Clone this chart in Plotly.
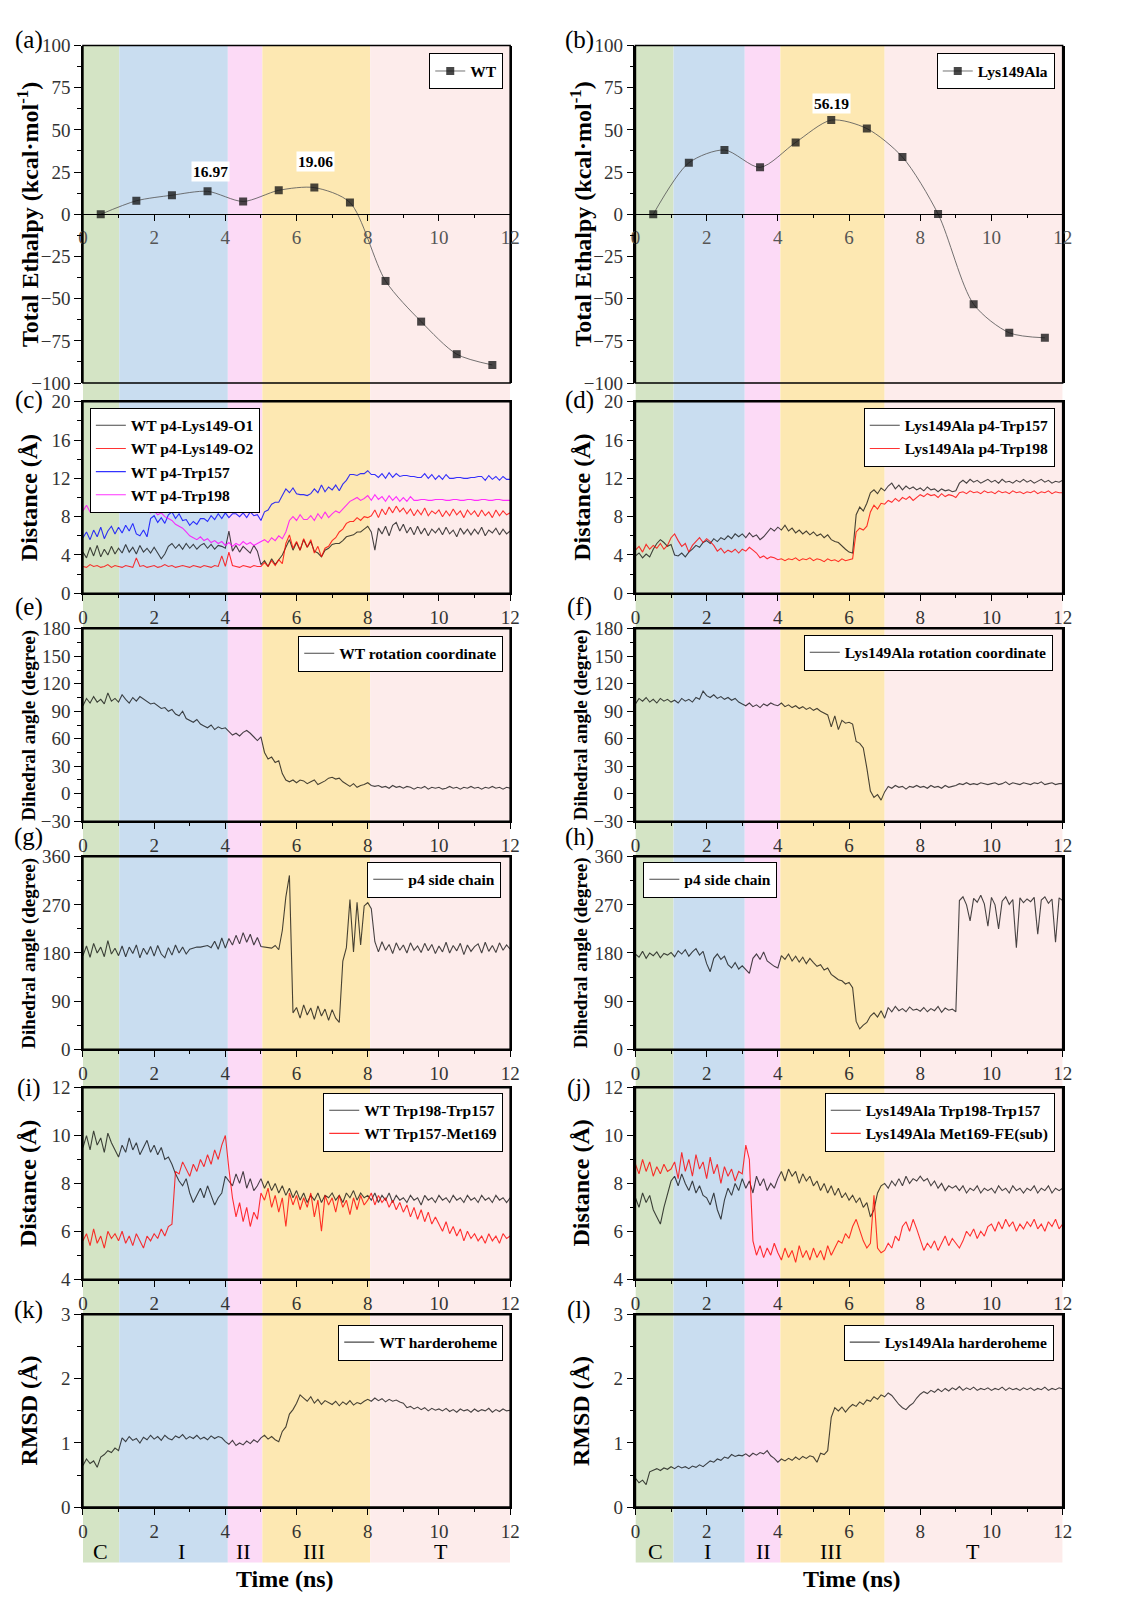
import numpy as np
import plotly.graph_objects as go

W, H = 1121, 1602
FONT = "Liberation Serif"


def px(x):
    return x / W


def py(y):
    return 1 - y / H


# ---------------- data ----------------
# (a)/(b) total enthalpy
enth_t = [0.5, 1.5, 2.5, 3.5, 4.5, 5.5, 6.5, 7.5, 8.5, 9.5, 10.5, 11.5]
enth_wt = [0.0, 8.0, 11.3, 13.6, 7.6, 14.2, 15.8, 7.0, -39.5, -63.6, -82.9, -89.3]
enth_mut = [0.0, 30.5, 38.1, 27.8, 42.6, 55.8, 50.8, 33.9, 0.2, -53.3, -70.2, -73.2]
labels_wt = [(3.58, 25.5, "16.97"), (6.53, 31.0, "19.06")]
labels_mut = [(5.5, 65.8, "56.19")]

# (c) WT distances, sampled every 0.1 ns
c_o1 = [4.3, 3.7, 4.8, 3.9, 5.0, 3.8, 4.6, 4.0, 4.9, 4.1,
        4.7, 4.2, 5.1, 4.3, 4.8, 4.1, 5.0, 4.3, 4.7, 4.2,
        4.8, 4.2, 3.6, 4.1, 4.9, 5.2, 4.7, 5.1, 4.6, 5.2,
        4.7, 5.1, 4.6, 5.0, 5.2, 4.7, 5.1, 4.6, 5.0, 4.9,
        4.7, 6.5, 4.4, 5.0, 4.3, 4.9, 4.5, 4.2, 5.0, 4.4,
        3.0, 3.4, 2.8, 3.6, 3.0, 3.5, 4.0, 4.8, 5.6, 4.5,
        5.3, 4.5, 5.6, 4.8, 5.4, 4.4, 4.2, 3.8, 4.5, 4.7,
        5.1, 5.2, 5.2, 5.5, 5.9, 6.0, 6.1, 6.4, 6.4, 6.7,
        7.0, 6.4, 4.5, 6.8, 6.2, 7.0, 6.0, 7.1, 7.4, 6.5,
        7.2, 6.3, 6.9, 6.1, 7.0, 6.2, 6.8, 6.0, 6.7, 6.3,
        6.8, 6.1, 6.9, 6.2, 6.6, 5.9, 6.8, 6.2, 6.7, 6.1,
        6.7, 6.2, 6.9, 6.0, 6.6, 6.3, 6.8, 6.1, 6.7, 6.2,
        6.5]
c_o2 = [2.8, 2.7, 3.0, 2.8, 2.9, 2.7, 2.8, 3.0, 2.7, 2.9,
        2.8, 2.7, 2.9, 2.8, 2.7, 3.7, 2.8, 2.9, 2.7, 2.8,
        2.9, 2.7, 2.8, 3.0, 2.8, 2.9, 2.7, 2.8, 2.9, 2.8,
        2.7, 2.9, 2.8, 2.7, 2.9, 2.8, 2.7, 2.9, 2.8, 3.9,
        2.8, 4.3, 2.9, 2.8, 2.7, 2.9, 2.8, 2.7, 2.9, 2.8,
        2.8, 3.2, 2.8, 3.4, 2.9, 3.5, 3.1, 5.2, 6.1, 4.7,
        5.4, 4.5, 5.7, 4.8, 5.6, 4.2, 4.9, 3.8, 4.7, 4.9,
        5.5, 5.8, 6.4, 6.7, 7.3, 7.5, 7.5, 7.9, 7.6, 8.0,
        7.9, 8.1, 8.7, 7.9, 8.8, 8.2, 9.0, 8.4, 9.1, 8.5,
        8.9, 8.3, 8.8, 8.1, 8.7, 8.2, 8.9, 8.1, 8.6, 8.3,
        8.7, 8.0, 8.6, 8.1, 8.8, 8.2, 8.6, 7.9, 8.7, 8.2,
        8.6, 8.0, 8.7, 8.1, 8.5, 7.9, 8.7, 8.1, 8.6, 8.2,
        8.4]
c_trp157 = [5.8, 6.4, 5.6, 6.6, 5.9, 6.9, 5.7, 6.5, 7.0, 6.2,
            6.9, 6.3, 7.1, 6.5, 7.3, 6.2, 6.0, 6.6, 5.9, 7.8,
            8.1, 7.4, 7.9, 7.3, 8.2, 8.5, 7.8, 8.3, 7.6, 7.7,
            7.1, 7.5, 7.2, 7.8, 7.8, 7.5, 8.1, 7.7, 8.3, 7.8,
            8.4, 7.9, 8.3, 8.3, 8.0, 8.4, 7.9, 8.5, 8.1, 8.2,
            7.6, 8.5, 8.7, 9.3, 9.5, 9.5, 10.2, 10.9, 10.5, 11.0,
            10.4, 10.3, 10.3, 10.2, 10.4, 10.9, 10.5, 11.3, 10.6, 11.1,
            10.8, 11.3, 10.7, 11.4, 11.8, 12.4, 12.4, 12.3, 12.5, 12.5,
            12.8, 12.4, 12.4, 12.1, 12.5, 12.0, 12.6, 12.1, 12.5, 12.2,
            12.3, 12.3, 12.2, 12.2, 12.1, 12.1, 12.5, 12.0, 12.4, 11.9,
            12.3, 11.9, 12.4, 12.0, 12.0, 12.1, 12.1, 12.0, 12.0, 12.1,
            12.1, 12.2, 12.2, 11.8, 12.3, 11.9, 12.2, 11.8, 12.2, 11.9,
            11.9]
c_trp198 = [8.6, 9.2, 8.5, 9.1, 8.7, 9.3, 8.6, 9.0, 9.2, 8.7,
            8.5, 9.0, 8.6, 9.1, 8.7, 9.3, 8.6, 9.0, 8.5, 8.4,
            8.6, 8.2, 8.4, 8.0, 7.8, 7.6, 7.2, 7.0, 6.8, 6.4,
            6.0, 5.8, 5.6, 5.9, 5.5, 5.7, 5.3, 5.5, 5.2, 5.4,
            5.0, 5.3, 4.9, 5.2, 5.0, 5.4, 5.1, 5.3, 5.0, 5.2,
            5.4, 5.6, 5.3, 5.8, 5.5, 6.0, 5.7, 6.4, 7.6, 8.0,
            7.6, 8.2, 7.7, 7.7, 8.1, 7.6, 8.3, 7.8, 8.5, 7.9,
            8.3, 8.6, 8.4, 8.8, 9.2, 9.6, 9.8, 10.0, 9.7, 9.9,
            10.2, 9.7, 10.3, 9.8, 10.1, 9.6, 10.2, 9.7, 10.1, 9.6,
            10.0, 9.6, 10.1, 9.7, 9.7, 9.8, 9.8, 9.7, 9.7, 9.8,
            9.8, 9.8, 9.7, 9.7, 9.8, 9.8, 9.7, 9.7, 9.8, 9.8,
            9.7, 9.7, 9.8, 9.8, 9.7, 9.7, 9.8, 9.8, 9.7, 9.7,
            9.7]

# (d) Lys149Ala distances
d_trp157 = [3.9, 4.2, 3.7, 4.1, 3.8, 4.6, 5.2, 5.6, 5.3, 4.9,
            5.1, 4.0, 3.9, 4.2, 3.8, 4.3, 4.6, 5.0, 4.8, 5.3,
            5.5, 5.2, 5.7, 5.4, 5.8, 5.6, 6.0, 5.7, 6.2, 5.9,
            6.2, 5.8, 6.3, 5.9, 6.1, 5.6, 5.9, 6.4, 6.8, 6.5,
            6.9, 6.6, 7.1, 6.5, 6.8, 6.3, 6.6, 6.2, 6.5, 6.1,
            6.4, 6.0, 6.2, 5.8, 6.1, 5.6, 5.4, 5.3, 4.9, 4.6,
            4.3, 4.2, 8.2, 9.0, 8.6, 9.4, 10.5, 10.8, 10.4, 11.0,
            10.7, 11.2, 11.5, 10.9, 11.3, 10.8, 11.2, 10.9, 11.1, 10.8,
            11.0, 10.7, 11.1, 10.8, 10.9, 10.6, 10.9, 10.7, 10.8, 10.6,
            10.7, 11.5, 11.8, 11.5, 11.9, 11.6, 11.8, 11.5, 11.7, 11.9,
            11.6, 11.8, 11.5, 11.9, 11.6, 11.7, 11.5, 11.8, 11.6, 11.9,
            11.6, 11.8, 11.5, 11.7, 11.9, 11.6, 11.8, 11.5, 11.7, 11.6,
            11.8]
d_trp198 = [4.5, 4.9, 4.3, 5.1, 4.6, 5.0, 4.7, 5.2, 4.6, 5.0,
            5.8, 6.2, 5.5, 4.9, 5.2, 4.3, 5.0, 5.4, 5.8, 5.3,
            5.7, 5.4, 5.0, 4.4, 4.7, 4.2, 4.5, 4.3, 4.6, 4.2,
            4.6, 4.4, 4.8, 4.5, 4.2, 3.7, 3.9, 3.6, 3.8, 3.7,
            3.5, 3.6, 3.4, 3.6, 3.5, 3.7, 3.4, 3.6, 3.5, 3.7,
            3.4, 3.6, 3.5, 3.3, 3.6, 3.4, 3.5, 3.3, 3.6, 3.4,
            3.5, 3.6, 6.4, 6.8, 6.6, 7.0, 8.5, 9.2, 8.8, 9.4,
            9.3, 9.7, 9.5, 9.9, 9.6, 10.0, 9.8, 10.1, 9.7, 10.0,
            10.3, 10.1, 10.4, 10.2, 10.3, 10.0, 10.4, 10.1, 10.3, 10.2,
            10.0, 10.5, 10.6, 10.4, 10.7, 10.5, 10.6, 10.4, 10.7, 10.5,
            10.6, 10.4, 10.7, 10.5, 10.6, 10.4, 10.7, 10.5, 10.6, 10.4,
            10.6, 10.5, 10.7, 10.4, 10.6, 10.5, 10.7, 10.4, 10.6, 10.5,
            10.5]

# (e)/(f) rotation coordinate
e_rot = [96, 104, 99, 106, 100, 103, 98, 110, 101, 104,
         100, 108, 103, 99, 105, 101, 106, 103, 100, 98,
         99, 96, 93, 94, 90, 92, 87, 85, 90, 82,
         80, 78, 81, 76, 74, 72, 75, 70, 73, 71,
         72, 68, 64, 66, 63, 67, 69, 66, 62, 58,
         62, 45, 38, 40, 34, 36, 22, 15, 13, 15,
         12, 15, 14, 11, 13, 15, 10, 12, 14, 17,
         18, 16, 17, 13, 10, 8, 11, 7, 9, 10,
         12, 9, 8, 9, 7, 8, 6, 9, 7, 8,
         6, 8, 7, 5, 7, 6, 8, 5, 7, 6,
         7, 5, 6, 8, 6, 7, 5, 7, 6, 8,
         6, 7, 5, 7, 6, 8, 6, 7, 5, 7,
         6]
f_rot = [98, 104, 101, 105, 100, 103, 99, 104, 101, 103,
         100, 102, 99, 104, 101, 103, 100, 105, 103, 112,
         107, 105, 108, 104, 106, 103, 105, 102, 104, 100,
         98, 96, 99, 95, 97, 94, 98, 96, 99, 97,
         96, 99, 95, 97, 94, 96, 93, 95, 92, 94,
         91, 93, 90, 88, 86, 73, 85, 70, 80, 77,
         78, 76, 57, 55, 50, 28, 3, -4, -1, -7,
         2, 8, 6, 9, 7, 8, 5, 8, 7, 9,
         7, 8, 6, 9, 7, 8, 6, 9, 7, 8,
         9, 11, 10, 12, 10, 11, 10, 12, 11, 10,
         11, 12, 10, 11, 13, 10, 12, 11, 10, 12,
         11, 10, 12, 11, 13, 10, 11, 12, 10, 11,
         11]

# (g)/(h) p4 side chain dihedral
g_side = [175, 193, 172, 198, 180, 191, 173, 203, 178, 189,
          175, 193, 173, 191, 179, 195, 171, 189, 177, 192,
          174, 194, 178, 171, 190, 176, 195, 180, 191, 178,
          187, 189, 191, 191, 193, 194, 190, 202, 187, 208,
          189, 207, 195, 213, 197, 218, 200, 215, 195, 209,
          192, 191, 189, 189, 194, 186, 222, 285, 325, 68,
          78, 58, 83, 64, 77, 56, 81, 62, 75, 54,
          74, 58, 50, 165, 190, 280, 182, 275, 195, 268,
          274, 263, 201, 182, 201, 185, 196, 179, 199, 185,
          195, 180, 199, 185, 193, 181, 198, 184, 196, 179,
          193, 182, 200, 180, 194, 184, 198, 177, 195, 183,
          192, 197, 180, 200, 183, 194, 181, 199, 185, 195,
          187]
h_side = [178, 172, 183, 170, 180, 175, 182, 171, 179, 176,
          181, 173, 184, 178, 186, 174, 182, 188, 176, 183,
          160, 145, 170, 178, 168, 174, 158, 152, 162, 150,
          156, 148, 142, 170, 178, 168, 182, 165, 160, 155,
          152, 175, 168, 178, 165, 174, 163, 172, 160, 170,
          162, 155, 158, 148, 152, 140, 135, 130, 128, 122,
          125, 115, 52, 38, 45, 50, 62, 68, 60, 72,
          58, 78, 70, 80, 72, 76, 70, 79, 73, 75,
          71, 78, 70, 76, 72, 80, 69, 77, 73, 75,
          70, 278, 285, 270, 240, 282, 275, 288, 272, 230,
          284, 270, 225, 277, 285, 271, 280, 190, 283, 274,
          281, 276, 284, 215, 279, 285, 273, 281, 200, 283,
          278]

# (i)/(j) residue distances
i_198_157 = [9.5, 10.0, 9.4, 10.2, 9.6, 9.9, 9.3, 10.1, 9.7, 9.4,
             9.1, 9.6, 9.3, 9.9, 9.4, 9.7, 9.2, 9.5, 9.8, 9.3,
             9.6, 9.2, 9.5, 9.0, 9.1, 8.8, 8.4, 8.1, 7.9, 8.2,
             7.6, 7.2, 7.5, 7.8, 7.4, 7.9, 7.5, 7.1, 7.4, 7.6,
             8.3, 8.1, 7.9, 8.4, 8.0, 8.5, 7.8, 8.2, 7.7, 7.9,
             8.2, 7.8, 8.1, 7.7, 8.0, 7.6, 7.9, 7.5, 7.8, 7.4,
             7.7, 7.3, 7.6, 7.2, 7.5, 7.3, 7.6, 7.2, 7.5, 7.4,
             7.6, 7.3, 7.5, 7.2, 7.6, 7.4, 7.7, 7.3, 7.6, 7.4,
             7.5, 7.3, 7.6, 7.2, 7.5, 7.3, 7.6, 7.2, 7.5, 7.3,
             7.4, 7.2, 7.5, 7.3, 7.4, 7.1, 7.5, 7.3, 7.4, 7.2,
             7.5, 7.3, 7.4, 7.2, 7.5, 7.3, 7.4, 7.2, 7.5, 7.3,
             7.4, 7.2, 7.5, 7.3, 7.4, 7.2, 7.5, 7.3, 7.4, 7.2,
             7.4]
i_157_169 = [5.6, 5.9, 5.4, 6.1, 5.5, 5.8, 5.3, 6.0, 5.7, 5.9,
             5.6, 6.0, 5.5, 5.8, 5.4, 5.9, 5.6, 5.3, 5.8, 5.6,
             5.9, 5.7, 6.1, 5.8, 6.2, 6.3, 8.5, 8.4, 8.9, 8.6,
             8.3, 8.8, 8.5, 9.0, 8.7, 9.2, 8.8, 9.4, 9.0, 9.6,
             10.0, 8.6, 7.4, 6.6, 7.2, 6.4, 7.0, 6.2, 6.8, 6.5,
             7.6, 7.3, 7.8, 7.0, 7.5, 6.8, 7.4, 6.2, 7.6, 7.1,
             7.5, 6.9, 7.4, 7.0, 7.6, 6.6, 7.3, 6.0, 7.5, 7.1,
             7.4, 6.8, 7.5, 7.0, 7.3, 6.7, 7.4, 6.9, 7.5, 7.1,
             7.3, 7.6, 7.1, 7.5, 7.2, 7.4, 7.0, 7.3, 6.9, 7.2,
             6.8, 7.1, 6.6, 7.0, 6.5, 6.9, 6.4, 6.8, 6.3, 6.6,
             6.3, 6.0, 6.4, 5.9, 6.2, 5.8, 6.1, 5.6, 6.0, 5.7,
             5.9, 5.6, 5.8, 5.5, 5.9, 5.6, 5.8, 5.5, 5.9, 5.7,
             5.8]
j_198_157 = [7.4, 7.0, 7.6, 7.2, 7.5, 6.9, 6.6, 6.3, 7.0, 7.6,
             8.1, 8.3, 7.9, 8.4, 8.0, 7.7, 8.1, 7.6, 7.9, 7.5,
             7.4, 7.1, 7.6, 6.9, 6.5, 7.3, 7.8, 7.5, 8.0, 7.7,
             8.2, 7.8, 8.1, 7.6, 8.3, 7.9, 8.2, 7.7, 8.0, 7.8,
             8.2, 8.5, 8.1, 8.6, 8.3, 8.5, 8.0, 8.4, 8.1, 8.3,
             7.9, 8.1, 7.7, 8.0, 7.6, 7.9, 7.5, 7.8, 7.4, 7.6,
             7.3, 7.5, 7.2, 7.4, 7.0, 7.2, 6.6, 6.9, 7.6, 7.9,
             8.0, 7.8, 8.1, 7.9, 8.2, 7.9, 8.3, 8.0, 8.2, 8.1,
             8.3, 8.1, 8.2, 7.9, 8.1, 7.8, 8.0, 7.7, 7.9, 7.8,
             7.9, 7.7, 7.9, 7.6, 7.8, 7.7, 7.9, 7.6, 7.8, 7.7,
             7.8, 7.6, 7.9, 7.7, 7.8, 7.6, 7.9, 7.7, 7.8, 7.6,
             7.8, 7.7, 7.9, 7.6, 7.8, 7.7, 7.9, 7.6, 7.8, 7.7,
             7.8]
j_169_fe = [8.8, 8.4, 9.0, 8.5, 8.9, 8.3, 8.7, 8.4, 8.8, 8.5,
            8.6, 8.9, 8.2, 9.3, 8.5, 9.0, 8.3, 9.2, 8.6, 8.9,
            8.2, 9.1, 8.4, 8.8, 8.0, 8.7, 8.3, 8.6, 8.1, 8.5,
            8.4, 9.6, 9.0, 5.6, 5.0, 5.4, 4.9, 5.3, 5.0, 5.5,
            5.1, 4.8, 5.3, 4.9, 5.2, 4.7, 5.4, 4.9, 5.2, 4.8,
            5.3, 4.9, 5.2, 4.8, 5.4, 5.0, 5.3, 5.6, 5.5, 5.9,
            5.7, 6.2, 6.5, 6.0, 5.6, 5.3, 5.5, 7.5, 5.3, 5.1,
            5.2, 5.5, 5.3, 5.8, 5.6, 6.2, 6.4, 6.0, 6.5, 6.1,
            5.6, 5.2, 5.5, 5.3, 5.6, 5.2, 5.5, 5.8, 5.4, 5.7,
            5.5, 5.3, 5.6, 6.0, 5.8, 6.1, 5.7, 6.0, 5.8, 6.2,
            6.3, 6.0, 6.4, 6.1, 6.5, 6.2, 6.4, 6.0, 6.3, 6.1,
            6.4, 6.2, 6.5, 6.1, 6.3, 6.0, 6.4, 6.2, 6.5, 6.1,
            6.3]

# (k)/(l) harderoheme RMSD
k_rmsd = [0.65, 0.75, 0.68, 0.72, 0.62, 0.78, 0.82, 0.88, 0.85, 0.92,
          0.88, 1.08, 1.02, 1.10, 1.04, 1.07, 1.00, 1.09, 1.05, 1.12,
          1.06, 1.10, 1.04, 1.12, 1.07, 1.05, 1.11, 1.08, 1.13, 1.06,
          1.10, 1.07, 1.12, 1.06, 1.09, 1.05, 1.11, 1.07, 1.10, 1.08,
          1.02, 0.98, 1.04, 0.96, 1.00, 0.97, 1.03, 0.99, 1.05, 1.01,
          1.08, 1.12, 1.06, 1.10, 1.05, 1.02, 1.18, 1.25, 1.45, 1.52,
          1.62, 1.75, 1.70, 1.65, 1.72, 1.62, 1.68, 1.60, 1.66, 1.63,
          1.60, 1.65, 1.58, 1.64, 1.60, 1.66, 1.59, 1.63, 1.61, 1.65,
          1.68, 1.65, 1.70, 1.66, 1.69, 1.64, 1.68, 1.65, 1.67, 1.64,
          1.62, 1.55, 1.57, 1.53, 1.56, 1.52, 1.55, 1.50, 1.54, 1.51,
          1.53, 1.50, 1.54, 1.49, 1.52, 1.48, 1.53, 1.50, 1.52, 1.48,
          1.53, 1.49, 1.52, 1.50, 1.54, 1.48, 1.52, 1.49, 1.53, 1.50,
          1.51]
l_rmsd = [0.45, 0.38, 0.42, 0.35, 0.55, 0.58, 0.60, 0.57, 0.61, 0.59,
          0.63, 0.60, 0.64, 0.61, 0.63, 0.60, 0.64, 0.62, 0.66, 0.63,
          0.68, 0.72, 0.70, 0.75, 0.73, 0.78, 0.76, 0.82, 0.79, 0.81,
          0.80, 0.83, 0.79, 0.84, 0.81, 0.85, 0.83, 0.88, 0.80, 0.76,
          0.70, 0.75, 0.72, 0.76, 0.73, 0.78, 0.74, 0.79, 0.76, 0.80,
          0.78, 0.70, 0.84, 0.82, 0.88, 1.40, 1.55, 1.50, 1.56, 1.48,
          1.55, 1.60, 1.57, 1.64, 1.60, 1.67, 1.65, 1.72, 1.68, 1.75,
          1.72, 1.78, 1.74, 1.66, 1.60, 1.55, 1.52, 1.58, 1.62, 1.70,
          1.76, 1.80, 1.77, 1.82, 1.79, 1.84, 1.80, 1.85, 1.81, 1.86,
          1.83, 1.88, 1.82, 1.86, 1.83, 1.87, 1.82, 1.85, 1.83, 1.86,
          1.82, 1.85, 1.83, 1.87, 1.82, 1.86, 1.83, 1.85, 1.82, 1.86,
          1.83, 1.86, 1.82, 1.85, 1.83, 1.87, 1.82, 1.85, 1.83, 1.86,
          1.84]

# phases (start, end, label, label position) per column
phases_wt = [(0.0, 1.02, "C", 0.5), (1.02, 4.07, "I", 2.76), (4.07, 5.04, "II", 4.52),
             (5.04, 8.07, "III", 6.48), (8.07, 12.0, "T", 10.07)]
phases_mut = [(0.0, 1.07, "C", 0.55), (1.07, 3.07, "I", 2.01), (3.07, 4.07, "II", 3.6),
              (4.07, 7.0, "III", 5.48), (7.0, 12.0, "T", 9.47)]
phase_colors = ["#d4e4c5", "#c9ddf0", "#fcdaf6", "#fde8b2", "#fdeceb"]

# ---------------- layout geometry ----------------
col_px = [(79, 512), (639, 1072)]
row_px = [(36, 378), (397, 591), (627, 822), (858, 1053), (1092, 1286), (1322, 1517)]
yranges = [(-100, 100, 25), (0, 20, 4), (-30, 180, 30), (0, 360, 90), (4, 12, 2), (0, 3, 1)]
ytitles = ["Total Ethalpy (kcal·mol<sup>-1</sup>)", "Distance (Å)", "Dihedral angle (degree)",
           "Dihedral angle (degree)", "Distance (Å)", "RMSD (Å)"]
ytitle_size = [24, 24, 19, 19, 24, 24]
letters = "abcdefghijkl"
letter_y = [30, 395, 605, 838, 1092, 1317]

BLACK = "rgba(0,0,0,0.72)"
RED = "rgba(255,0,0,0.8)"
BLUE = "rgba(0,0,255,0.8)"
MAG = "rgba(255,0,255,0.8)"

fig = go.Figure()


def ax(p):
    return ("x" if p == 1 else f"x{p}"), ("y" if p == 1 else f"y{p}")


def lg(p):
    return "legend" if p == 1 else f"legend{p}"


def add_series(p, y, name, color):
    xa, ya = ax(p)
    tt = np.arange(len(y)) * 0.1
    fig.add_trace(go.Scatter(x=tt, y=y, mode="lines", name=name, xaxis=xa, yaxis=ya,
                             legend=lg(p), showlegend=True, line=dict(color=color, width=1.1)))


# (a),(b)
for p, vals, nm in [(1, enth_wt, "WT"), (2, enth_mut, "Lys149Ala")]:
    xa, ya = ax(p)
    fig.add_trace(go.Scatter(x=enth_t, y=vals, mode="lines+markers", name=nm, xaxis=xa, yaxis=ya,
                             legend=lg(p), showlegend=True,
                             line=dict(color="rgba(90,90,90,0.85)", width=1, shape="spline", smoothing=0.8),
                             marker=dict(symbol="square", size=8, color="rgba(20,20,20,0.78)")))

add_series(3, c_o1, "WT p4-Lys149-O1", BLACK)
add_series(3, c_o2, "WT p4-Lys149-O2", RED)
add_series(3, c_trp157, "WT p4-Trp157", BLUE)
add_series(3, c_trp198, "WT p4-Trp198", MAG)
add_series(4, d_trp157, "Lys149Ala p4-Trp157", BLACK)
add_series(4, d_trp198, "Lys149Ala p4-Trp198", RED)
add_series(5, e_rot, "WT rotation coordinate", BLACK)
add_series(6, f_rot, "Lys149Ala rotation coordinate", BLACK)
add_series(7, g_side, "p4 side chain", BLACK)
add_series(8, h_side, "p4 side chain", BLACK)
add_series(9, i_198_157, "WT Trp198-Trp157", BLACK)
add_series(9, i_157_169, "WT Trp157-Met169", RED)
add_series(10, j_198_157, "Lys149Ala Trp198-Trp157", BLACK)
add_series(10, j_169_fe, "Lys149Ala Met169-FE(sub)", RED)
add_series(11, k_rmsd, "WT harderoheme", BLACK)
add_series(12, l_rmsd, "Lys149Ala harderoheme", BLACK)

legend_pos = {1: ("right", 505, 44), 2: ("right", 1064, 44), 3: ("left", 86, 403),
              4: ("right", 1064, 403), 5: ("right", 505, 634), 6: ("right", 1062, 633),
              7: ("right", 503, 863), 8: ("left", 647, 863), 9: ("right", 505, 1097),
              10: ("right", 1064, 1097), 11: ("right", 505, 1332), 12: ("right", 1063, 1332)}

layout = dict(width=W, height=H, autosize=False, margin=dict(l=0, r=0, t=0, b=0),
              paper_bgcolor="white", plot_bgcolor="rgba(0,0,0,0)", showlegend=True,
              font=dict(family=FONT, color="#222"), hovermode=False)
shapes = []
annotations = []

tickfont = dict(family=FONT, size=19, color="#333")
for p in range(1, 13):
    r = (p - 1) // 2
    c = (p - 1) % 2
    x0, x1 = col_px[c]
    top, bot = row_px[r]
    xd = [px(x0), px(x1)]
    yd = [py(bot), py(top)]
    xa, ya = ax(p)
    lo, hi, dt = yranges[r]
    xk = "xaxis" if p == 1 else f"xaxis{p}"
    yk = "yaxis" if p == 1 else f"yaxis{p}"
    xdict = dict(domain=xd, range=[0, 12], tick0=0, dtick=2, ticks="outside", ticklen=6,
                 tickwidth=1.3, tickcolor="black", showgrid=False, zeroline=False,
                 showline=True, linecolor="black", linewidth=1.5, mirror=True, tickfont=tickfont,
                 minor=dict(ticks="outside", dtick=1, ticklen=3, tickcolor="black", tickwidth=1.3))
    if r == 0:
        xdict.update(anchor="free", position=(yd[0] + yd[1]) / 2, mirror=False, linewidth=1.3)
        xdict["tickfont"] = dict(family=FONT, size=19, color="#555")
    else:
        xdict.update(anchor=ya)
    layout[xk] = xdict
    layout[yk] = dict(domain=yd, range=[lo, hi], tick0=lo, dtick=dt, anchor=xa, ticks="outside",
                      ticklen=7, tickwidth=1.3, tickcolor="black", showgrid=False, zeroline=False,
                      showline=True, linecolor="black", linewidth=1.5, mirror=True, tickfont=tickfont,
                      minor=dict(ticks="outside", dtick=dt / 2, ticklen=4, tickcolor="black", tickwidth=1.3))
    # frame
    shapes.append(dict(type="rect", xref=f"{xa} domain", yref=f"{ya} domain", x0=0, x1=1, y0=0, y1=1,
                       line=dict(color="black", width=1.5), layer="above"))
    # legend
    side, lx, ly = legend_pos[p]
    layout[lg(p)] = dict(x=px(lx), y=py(ly), xanchor=side, yanchor="top", bgcolor="white",
                         bordercolor="black", borderwidth=1, visible=True,
                         font=dict(family=FONT, size=15.5, color="black", weight="bold"),
                         itemwidth=30, tracegroupgap=0)
    # y title
    tx = 24 if c == 0 else 584
    annotations.append(dict(text=f"<b>{ytitles[r]}</b>", x=px(tx), y=py((top + bot) / 2),
                            xref="paper", yref="paper", textangle=-90, showarrow=False,
                            font=dict(family=FONT, size=ytitle_size[r], color="black"),
                            xanchor="center", yanchor="middle"))
    # panel letter
    lx_ = 24 if c == 0 else 582
    annotations.append(dict(text=f"({letters[p - 1]})", x=px(lx_), y=py(letter_y[r]),
                            xref="paper", yref="paper", showarrow=False,
                            font=dict(family=FONT, size=25, color="black"),
                            xanchor="center", yanchor="middle"))

# value labels
for (xx, yy, txt) in labels_wt:
    annotations.append(dict(text=f"<b>{txt}</b>", x=xx, y=yy, xref="x", yref="y", showarrow=False,
                            bgcolor="white", font=dict(family=FONT, size=15.5, color="black"), borderpad=1))
for (xx, yy, txt) in labels_mut:
    annotations.append(dict(text=f"<b>{txt}</b>", x=xx, y=yy, xref="x2", yref="y2", showarrow=False,
                            bgcolor="white", font=dict(family=FONT, size=15.5, color="black"), borderpad=1))

# phase bands and labels
for xr, phases in [("x", phases_wt), ("x2", phases_mut)]:
    for (s, e, lab, lpos), colr in zip(phases, phase_colors):
        shapes.append(dict(type="rect", xref=xr, yref="paper", x0=s, x1=e, y0=py(1573), y1=py(36),
                           fillcolor=colr, line=dict(width=0), layer="below"))
        annotations.append(dict(text=lab, x=lpos, y=py(1562), xref=xr, yref="paper", showarrow=False,
                                font=dict(family=FONT, size=22, color="black"),
                                xanchor="center", yanchor="middle"))

# x title
for cx in (284, 858):
    annotations.append(dict(text="<b>Time (ns)</b>", x=px(cx), y=py(1590), xref="paper", yref="paper",
                            showarrow=False, font=dict(family=FONT, size=24, color="black"),
                            xanchor="center", yanchor="middle"))

layout["shapes"] = shapes
layout["annotations"] = annotations
fig.update_layout(**layout)
fig.write_html("out.html")
